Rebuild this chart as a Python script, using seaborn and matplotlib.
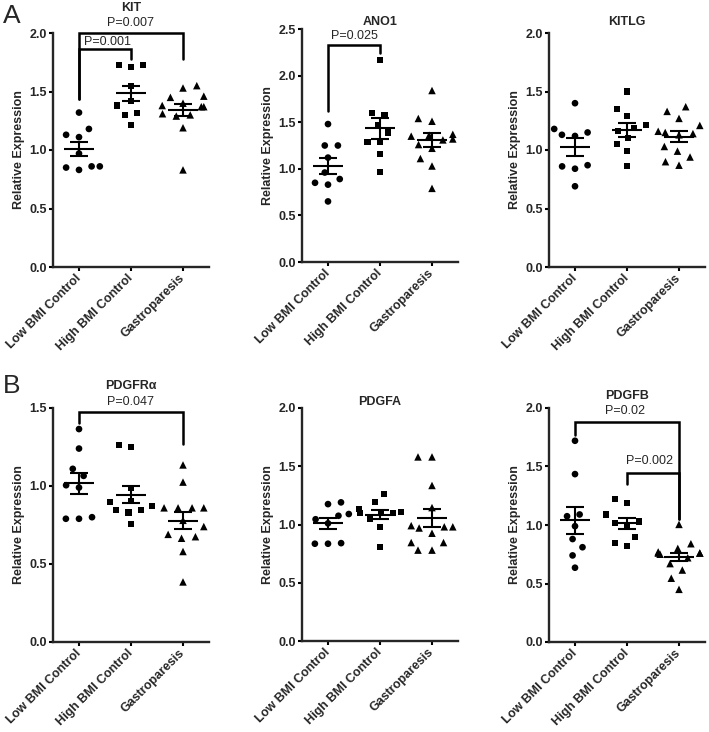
import numpy as np
import pandas as pd
import matplotlib
matplotlib.use("Agg")
import matplotlib.pyplot as plt
import seaborn as sns

# ---------------------------------------------------------------
# data
# ---------------------------------------------------------------
groups = ["Low BMI Control", "High BMI Control", "Gastroparesis"]
markers = ["o", "s", "^"]
marker_sizes = [4.8, 4.4, 5.4]

kit_low = [1.32, 1.18, 1.13, 1.11, 0.97, 0.86, 0.86, 0.85, 0.83]
kit_high = [1.73, 1.73, 1.71, 1.55, 1.42, 1.38, 1.32, 1.30, 1.21]
kit_gp = [1.55, 1.53, 1.46, 1.45, 1.40, 1.38, 1.37, 1.37, 1.31, 1.30, 1.29, 1.19, 0.83]

ano1_low = [1.48, 1.25, 1.25, 1.12, 0.96, 0.89, 0.85, 0.83, 0.65]
ano1_high = [2.17, 1.60, 1.58, 1.47, 1.39, 1.29, 1.29, 1.16, 0.97]
ano1_gp = [1.84, 1.54, 1.51, 1.37, 1.36, 1.35, 1.32, 1.31, 1.26, 1.22, 1.11, 1.03, 0.79]

kitlg_low = [1.40, 1.18, 1.15, 1.13, 1.12, 0.87, 0.86, 0.84, 0.69]
kitlg_high = [1.50, 1.35, 1.29, 1.21, 1.19, 1.16, 1.10, 1.05, 0.99, 0.86]
kitlg_gp = [1.37, 1.33, 1.27, 1.21, 1.16, 1.15, 1.14, 1.13, 1.03, 0.99, 0.94, 0.90, 0.87]

pdgfra_low = [1.365, 1.24, 1.11, 1.065, 1.005, 0.99, 0.80, 0.79, 0.79]
pdgfra_high = [1.26, 1.25, 0.985, 0.905, 0.90, 0.87, 0.845, 0.845, 0.83, 0.755]
pdgfra_gp = [1.135, 1.025, 0.86, 0.86, 0.86, 0.86, 0.78, 0.74, 0.69, 0.675, 0.665, 0.58, 0.385]

pdgfa_low = [1.19, 1.175, 1.09, 1.075, 1.045, 1.01, 0.84, 0.835, 0.835]
pdgfa_high = [1.26, 1.19, 1.13, 1.11, 1.10, 1.10, 1.10, 1.045, 0.98, 0.805]
pdgfa_gp = [1.58, 1.58, 1.335, 1.145, 0.99, 0.98, 0.98, 0.97, 0.925, 0.845, 0.845, 0.78, 0.78]

pdgfb_low = [1.72, 1.435, 1.09, 1.075, 0.99, 0.88, 0.81, 0.74, 0.635]
pdgfb_high = [1.225, 1.19, 1.09, 1.03, 1.02, 1.00, 0.90, 0.845, 0.82]
pdgfb_gp = [1.005, 0.84, 0.80, 0.77, 0.76, 0.76, 0.76, 0.75, 0.72, 0.67, 0.615, 0.545, 0.45]

# significance brackets: (x left, x right, top, left leg end, right leg end, label, label x, label y)
kit_sig = [(0, 2, 2.0, 1.44, 1.78, "P=0.007", 1.0, 2.035),
           (0, 1, 1.86, 1.44, 1.78, "P=0.001", 0.54, 1.875)]
ano1_sig = [(0, 1, 2.33, 1.625, 2.24, "P=0.025", 0.51, 2.36)]
pdgfra_sig = [(0, 2, 1.473, 1.407, 1.27, "P=0.047", 1.0, 1.50)]
pdgfb_sig = [(0, 2, 1.877, 1.77, 1.054, "P=0.02", 0.96, 1.925),
             (1, 2, 1.446, 1.35, 1.054, "P=0.002", 1.44, 1.495)]

# ---------------------------------------------------------------
# style
# ---------------------------------------------------------------
sns.set_style("ticks")
plt.rcParams["font.family"] = ["Liberation Sans", "DejaVu Sans"]
plt.rcParams["axes.linewidth"] = 1.7

fig = plt.figure(figsize=(7.09, 7.32), dpi=100)

W, H = 709.0, 732.0

# (title, data, ymax, left px, top px, bottom px, title pad, brackets)
panels = [
    ("KIT", [kit_low, kit_high, kit_gp], 2.0, 53, 33, 267, 16, kit_sig),
    ("ANO1", [ano1_low, ano1_high, ano1_gp], 2.5, 302, 29, 262, 3, ano1_sig),
    ("KITLG", [kitlg_low, kitlg_high, kitlg_gp], 2.0, 549, 33, 267, 6, []),
    ("PDGFR\u03b1", [pdgfra_low, pdgfra_high, pdgfra_gp], 1.5, 53, 408, 642, 14, pdgfra_sig),
    ("PDGFA", [pdgfa_low, pdgfa_high, pdgfa_gp], 2.0, 302, 408, 641, 1, []),
    ("PDGFB", [pdgfb_low, pdgfb_high, pdgfb_gp], 2.0, 549, 408, 642, 6.5, pdgfb_sig),
]

for title, data, ymax, left, top, bottom, tpad, sigs in panels:
    ax = fig.add_axes([left / W, 1 - bottom / H, 156 / W, (bottom - top) / H])

    for i, vals in enumerate(data):
        df = pd.DataFrame({"group": groups[i], "value": vals})
        sns.swarmplot(data=df, x="group", y="value", order=groups,
                      marker=markers[i], size=marker_sizes[i], color="black",
                      edgecolor="none", linewidth=4.2, ax=ax)

        # mean +/- SEM
        v = np.asarray(vals)
        m = v.mean()
        se = v.std(ddof=1) / np.sqrt(len(v))
        ax.hlines(m, i - 0.28, i + 0.28, color="black", lw=1.5, zorder=6)
        ax.hlines([m - se, m + se], i - 0.17, i + 0.17, color="black", lw=1.5, zorder=6)
        ax.vlines(i, m - se, m + se, color="black", lw=1.5, zorder=6)

    for x0, x1, yt, yl, yr, lab, lx, ly in sigs:
        ax.plot([x0, x0, x1, x1], [yl, yt, yt, yr], color="black", lw=1.8,
                solid_joinstyle="miter", clip_on=False, zorder=7)
        ax.text(lx, ly, lab, ha="center", va="bottom", fontsize=9)

    ax.set_xlim(-0.5, 2.5)
    ax.set_ylim(0, ymax)
    ax.set_yticks(np.arange(0, ymax + 0.01, 0.5))
    ax.set_yticklabels([f"{t:.1f}" for t in np.arange(0, ymax + 0.01, 0.5)])
    ax.set_xlabel("")
    ax.set_ylabel("Relative Expression", fontsize=9, fontweight="bold", labelpad=3)
    ax.set_title(title, fontsize=9, fontweight="bold", pad=tpad)
    ax.set_xticks(range(3))
    ax.set_xticklabels(groups, rotation=45, ha="right", va="center",
                       rotation_mode="anchor", fontsize=9, fontweight="bold")
    for lab in ax.get_yticklabels():
        lab.set_fontweight("bold")
        lab.set_fontsize(9)
    ax.tick_params(direction="out", length=3, width=1.5, pad=1.5, color="black")
    ax.tick_params(axis="x", pad=4)
    sns.despine(ax=ax)

fig.text(3 / W, 1 - 23 / H, "A", fontsize=19, ha="left", va="baseline")
fig.text(3 / W, 1 - 393 / H, "B", fontsize=19, ha="left", va="baseline")

fig.savefig("out.png", dpi=100)
